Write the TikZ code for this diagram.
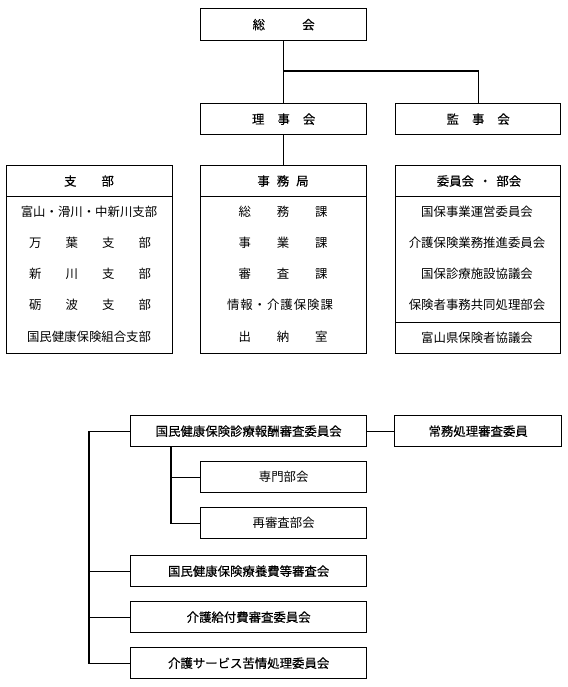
\documentclass[tikz,border=0pt]{standalone}
\usepackage{fontspec}
\newfontfamily\jp{Noto Sans CJK JP}
\newfontfamily\jpd[FakeBold=0.35]{Noto Sans CJK JP}
\begin{document}
\begin{tikzpicture}[x=1pt,y=-1pt,
  font=\jp\fontsize{12.4}{14}\selectfont,
  line width=1.1pt,
  box/.style={draw, line width=1.3pt, inner sep=0pt, anchor=north west},
  hd/.style={font=\jpd\fontsize{12.4}{14}\selectfont},
  lbl/.style={inner sep=0pt}]
\useasboundingbox (0,0) rectangle (567,687);

% top
\node[box, hd, minimum width=166pt, minimum height=32pt] (sokai) at (200,8) {総　　　会};
\node[box, hd, minimum width=166pt, minimum height=31pt] (riji) at (200,103) {理\hspace{13pt}事\hspace{13pt}会};
\node[box, hd, minimum width=165pt, minimum height=31pt] (kanji) at (395,103) {監\hspace{13pt}事\hspace{13pt}会};
\coordinate (jn) at (283,71);
\draw (sokai.south) -- (riji.north);
\draw (jn) -| (kanji.north);

% three tall boxes
\node[box, minimum width=166pt, minimum height=188pt] (shibu) at (6,165) {};
\node[box, minimum width=166pt, minimum height=188pt] (jimu) at (200,165) {};
\node[box, minimum width=165pt, minimum height=188pt] (iin) at (395,165) {};
\draw (riji.south) -- (jimu.north);
\draw[line width=1pt] ([yshift=-31pt]shibu.north west) -- ([yshift=-31pt]shibu.north east);
\draw[line width=1pt] ([yshift=-31pt]jimu.north west) -- ([yshift=-31pt]jimu.north east);
\draw[line width=1pt] ([yshift=-31pt]iin.north west) -- ([yshift=-31pt]iin.north east);
\draw[line width=0.8pt] ([yshift=-157pt]iin.north west) -- ([yshift=-157pt]iin.north east);

% 支部
\node[lbl, hd] (s0) at (89,181) {支\hspace{25pt}部};
\node[lbl] (s1) at (89,212) {富山・滑川・中新川支部};
\node[lbl] (s2) at (90,243) {\hbox to 122pt{万\hfill 葉\hfill 支\hfill 部}};
\node[lbl] (s3) at (90,274) {\hbox to 122pt{新\hfill 川\hfill 支\hfill 部}};
\node[lbl] (s4) at (90,305) {\hbox to 122pt{砺\hfill 波\hfill 支\hfill 部}};
\node[lbl] (s5) at (89,337) {国民健康保険組合支部};

% 事務局
\node[lbl, hd] (j0) at (283,181) {事\hspace{7pt}務\hspace{7pt}局};
\node[lbl] (j1) at (283,212) {\hbox to 89pt{総\hfill 務\hfill 課}};
\node[lbl] (j2) at (283,243) {\hbox to 89pt{事\hfill 業\hfill 課}};
\node[lbl] (j3) at (283,274) {\hbox to 89pt{審\hfill 査\hfill 課}};
\node[lbl] (j4) at (280,305) {\hbox to 106pt{情\hfill 報\hfill ・\hfill 介\hfill 護\hfill 保\hfill 険\hfill 課}};
\node[lbl] (j5) at (283,337) {\hbox to 89pt{出\hfill 納\hfill 室}};

% 委員会・部会
\node[lbl, hd] (i0) at (479,181) {委員会\hspace{5pt}・\hspace{5pt}部会};
\node[lbl] (i1) at (477,212) {国保事業運営委員会};
\node[lbl] (i2) at (477,243) {介護保険業務推進委員会};
\node[lbl] (i3) at (477,274) {国保診療施設協議会};
\node[lbl] (i4) at (477,305) {保険者事務共同処理部会};
\node[lbl] (i5) at (477,338) {富山県保険者協議会};

% bottom
\node[box, hd, minimum width=236pt, minimum height=31pt] (shinsa) at (130,415) {国民健康保険診療報酬審査委員会};
\node[box, hd, minimum width=167pt, minimum height=31pt] (jomu) at (394,415) {常務処理審査委員};
\node[box, minimum width=166pt, minimum height=31pt] (senmon) at (200,461) {専門部会};
\node[box, minimum width=166pt, minimum height=31pt] (saishin) at (200,507) {再審査部会};
\node[box, hd, minimum width=236pt, minimum height=31pt] (ryoyo) at (130,555) {国民健康保険療養費等審査会};
\node[box, hd, minimum width=236pt, minimum height=31pt] (kyufu) at (130,601) {介護給付費審査委員会};
\node[box, hd, minimum width=236pt, minimum height=31pt] (kujo) at (130,647) {介護サービス苦情処理委員会};

\coordinate (trunk) at (89,0);
\coordinate (sb) at (171,0);
\draw (shinsa.east) -- (jomu.west);
\draw (shinsa.west) -- (shinsa.west -| trunk) |- (kujo.west);
\draw (ryoyo.west) -- (ryoyo.west -| trunk);
\draw (kyufu.west) -- (kyufu.west -| trunk);
\draw (shinsa.south -| sb) |- (saishin.west);
\draw (senmon.west) -- (senmon.west -| sb);
\end{tikzpicture}
\end{document}
